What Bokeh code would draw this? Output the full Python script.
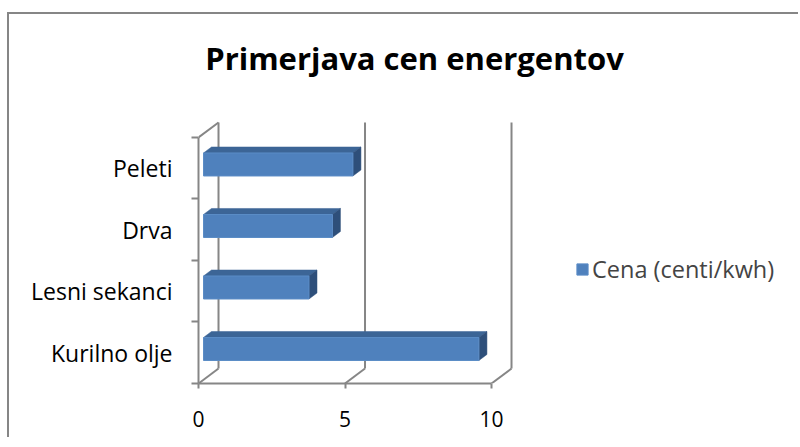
from bokeh.plotting import figure
from bokeh.models import (Range1d, LinearAxis, FixedTicker, Label, Legend,
                          LegendItem, ColumnDataSource)
from bokeh.embed import file_html
from bokeh.resources import INLINE

# ---- data ----
categories = ["Kurilno olje", "Lesni sekanci", "Drva", "Peleti"]
prices = [9.4, 3.6, 4.4, 5.1]
x_ticks = [0, 5, 10]
title_text = "Primerjava cen energentov"
series_name = "Cena (centi/kwh)"

# ---- style ----
FONT = "Open Sans"
GREY = "#868686"
FRONT = "#4F81BD"
TOP = "#3C6596"
SIDE = "#2E4F7A"
DX = 0.683      # depth of 3D box in value units
DY = 0.244      # depth of 3D box in category units
F0, F1 = 0.25, 0.65   # bar front/back depth fractions
BH = 0.374      # bar height in category units

n = len(categories)
p = figure(width=791, height=425, output_backend="svg", toolbar_location=None,
           x_range=Range1d(0, 20.375), y_range=Range1d(0, 5.902),
           x_axis_type=None, y_axis_type=None,
           min_border_left=189, min_border_right=5,
           min_border_top=6, min_border_bottom=56)
p.outline_line_color = None
p.xgrid.visible = False
p.ygrid.visible = False
p.background_fill_color = "white"
p.border_fill_color = "white"
p.styles = {"margin-top": "12px", "margin-left": "7px",
            "border-top": "2px solid #868686",
            "border-left": "2px solid #868686"}

# back wall gridlines and depth diagonals
p.segment(x0=[t + DX for t in x_ticks], y0=[DY] * len(x_ticks),
          x1=[t + DX for t in x_ticks], y1=[n + DY] * len(x_ticks),
          line_color=GREY, line_width=2)
p.segment(x0=x_ticks + [0], y0=[0] * len(x_ticks) + [n],
          x1=[t + DX for t in x_ticks] + [DX], y1=[DY] * len(x_ticks) + [n + DY],
          line_color=GREY, line_width=2)

# bars
yc = [i + 0.5 for i in range(n)]
front = ColumnDataSource(dict(
    left=[F0 * DX] * n,
    right=[v + F0 * DX for v in prices],
    bottom=[c - BH / 2 + F0 * DY for c in yc],
    top=[c + BH / 2 + F0 * DY for c in yc]))
tops_x, tops_y, side_x, side_y = [], [], [], []
for v, c in zip(prices, yc):
    tf = c + BH / 2 + F0 * DY
    bf = c - BH / 2 + F0 * DY
    d = (F1 - F0) * DY
    tops_x.append([F0 * DX, v + F0 * DX, v + F1 * DX, F1 * DX])
    tops_y.append([tf, tf, tf + d, tf + d])
    side_x.append([v + F0 * DX, v + F0 * DX, v + F1 * DX, v + F1 * DX])
    side_y.append([bf, tf, tf + d, bf + d])
p.patches(tops_x, tops_y, fill_color=TOP, line_color=TOP, line_width=0.5)
p.patches(side_x, side_y, fill_color=SIDE, line_color=SIDE, line_width=0.5)
bars = p.quad(source=front, left="left", right="right", bottom="bottom",
              top="top", fill_color=FRONT, line_color="#5B8CC6", line_width=1)

# axes
yaxis = LinearAxis(ticker=FixedTicker(ticks=yc, minor_ticks=list(range(n + 1))),
                   major_label_overrides={c: lab for c, lab in zip(yc, categories)},
                   bounds=(0, n))
yaxis.axis_line_color = GREY
yaxis.axis_line_width = 2
yaxis.major_tick_line_color = None
yaxis.major_tick_out = 0
yaxis.major_tick_in = 0
yaxis.minor_tick_line_color = GREY
yaxis.minor_tick_line_width = 2
yaxis.minor_tick_out = 7
yaxis.minor_tick_in = 0
yaxis.major_label_standoff = 19
yaxis.major_label_text_font = FONT
yaxis.major_label_text_font_size = "23px"
yaxis.major_label_text_color = "black"
p.add_layout(yaxis, "left")

xaxis = LinearAxis(ticker=FixedTicker(ticks=x_ticks, minor_ticks=[]), bounds=(0, 10))
xaxis.axis_line_color = GREY
xaxis.axis_line_width = 2
xaxis.major_tick_line_color = GREY
xaxis.major_tick_line_width = 2
xaxis.major_tick_out = 5
xaxis.major_tick_in = 0
xaxis.minor_tick_line_color = None
xaxis.major_label_standoff = 22
xaxis.major_label_text_font = FONT
xaxis.major_label_text_font_size = "21px"
xaxis.major_label_text_color = "black"
p.add_layout(xaxis, "below")

# title
p.add_layout(Label(x=216, y=326, x_units="screen", y_units="screen",
                   text=title_text, text_align="center", text_baseline="middle",
                   text_font=FONT, text_font_style="bold",
                   text_font_size="31px", text_color="black"))

# legend
legend = Legend(items=[LegendItem(label=series_name, renderers=[bars])],
                location=(377, 98), padding=0, margin=0, spacing=0,
                glyph_width=14, glyph_height=14, label_standoff=3,
                label_text_font=FONT, label_text_font_size="23.5px",
                border_line_color=None, background_fill_alpha=0)
p.add_layout(legend, "center")

open("out.html", "w").write(file_html(p, INLINE))
